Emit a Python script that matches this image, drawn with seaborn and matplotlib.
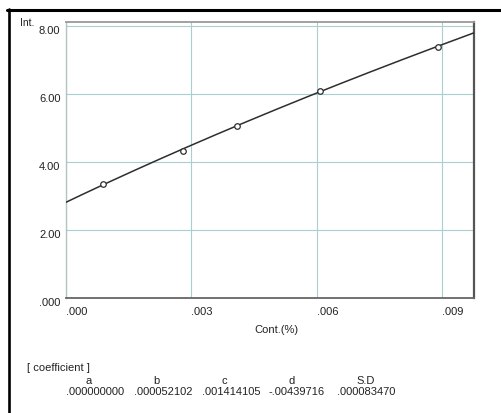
import numpy as np
import pandas as pd
import matplotlib
matplotlib.use("Agg")
import matplotlib.pyplot as plt
import matplotlib.transforms as mtransforms
from matplotlib.lines import Line2D
import seaborn as sns

# Measured standards: concentration (%) and intensity
conc = [0.000893, 0.002794, 0.004094, 0.006089, 0.008899]
intensity = [3.343, 4.311, 5.053, 6.070, 7.360]

# Calibration coefficients: Cont = a*I^3 + b*I^2 + c*I + d
coef_names = ["a", "b", "c", "d", "S.D"]
coef_labels = [".000000000", ".000052102", ".001414105", "-.00439716", ".000083470"]
coef_a, coef_b, coef_c, coef_d = 0.0, 0.000052102, 0.001414105, -0.00439716

x_ticks = [0.0, 0.003, 0.006, 0.009]
x_ticklabels = [".000", ".003", ".006", ".009"]
y_ticks = [0.0, 2.0, 4.0, 6.0, 8.0]
y_ticklabels = [".000", "2.00", "4.00", "6.00", "8.00"]

sns.set_style("white")
plt.rcParams["font.family"] = ["Liberation Sans", "DejaVu Sans"]

W, H = 501, 414
fig = plt.figure(figsize=(W / 100, H / 100), dpi=100)
fig.patch.set_facecolor("white")

ax_l, ax_r, ax_t, ax_b = 66, 474, 23.3, 299.3
ax = fig.add_axes([ax_l / W, 1 - ax_b / H, (ax_r - ax_l) / W, (ax_b - ax_t) / H])

# Fitted calibration curve
I_curve = np.linspace(2.7, 7.9, 300)
x_curve = coef_a * I_curve**3 + coef_b * I_curve**2 + coef_c * I_curve + coef_d
curve = pd.DataFrame({"conc": x_curve, "intensity": I_curve})
sns.lineplot(data=curve, x="conc", y="intensity", sort=False, estimator=None,
             color="#2e2e2e", linewidth=1.1, ax=ax, zorder=3)

pts = pd.DataFrame({"conc": conc, "intensity": intensity})
sns.scatterplot(data=pts, x="conc", y="intensity", ax=ax, s=16,
                facecolor="white", edgecolor="#2e2e2e", linewidth=0.9, zorder=4)

ax.set_xlim(0, 0.00977)
ax.set_ylim(0, 8.094)
ax.set_xticks(x_ticks)
ax.set_xticklabels(x_ticklabels, ha="left")
ax.set_yticks(y_ticks)
ax.set_yticklabels(y_ticklabels)
ax.set_xlabel("")
ax.set_ylabel("")
ax.tick_params(axis="both", length=0, labelsize=8, colors="#222222")
ax.tick_params(axis="x", pad=5.5)
ax.tick_params(axis="y", pad=4)
offset = mtransforms.ScaledTranslation(0, -3 / 100, fig.dpi_scale_trans)
for lab in ax.get_yticklabels():
    lab.set_transform(lab.get_transform() + offset)

ax.grid(True, color="#a9cfd2", linewidth=0.8)
ax.set_axisbelow(True)
ax.spines["top"].set_color("#9a9a9a")
ax.spines["top"].set_linewidth(1.3)
ax.spines["left"].set_color("#b4c4c4")
ax.spines["left"].set_linewidth(1.0)
ax.spines["right"].set_color("#555555")
ax.spines["right"].set_linewidth(1.6)
ax.spines["bottom"].set_color("#666666")
ax.spines["bottom"].set_linewidth(1.3)

def fx(px):
    return px / W

def fy(py):
    return 1 - py / H

fig.text(fx(20), fy(23), "Int.", fontsize=7.5, ha="left", va="center", color="#222222")
fig.text(fx(276), fy(330), "Cont.(%)", fontsize=8, ha="center", va="center", color="#222222")

fig.text(fx(27), fy(368), "[ coefficient ]", fontsize=8, ha="left", va="center", color="#222222")
head_x = [88.3, 156.7, 224.3, 291.7, 365.6]
val_x = [95.5, 163.7, 231.0, 297.0, 366.5]
for hx, vx, name, val in zip(head_x, val_x, coef_names, coef_labels):
    fig.text(fx(hx), fy(381.5), name, fontsize=8, ha="center", va="center", color="#222222")
    fig.text(fx(vx), fy(392.5), val, fontsize=8, ha="center", va="center", color="#222222")

# Outer frame (top and left edges)
fig.add_artist(Line2D([fx(7), fx(501)], [fy(11), fy(11)], color="black", linewidth=2.2))
fig.add_artist(Line2D([fx(8.7), fx(8.7)], [fy(10), fy(414)], color="black", linewidth=1.9))

fig.savefig("out.png", dpi=100, facecolor="white")
